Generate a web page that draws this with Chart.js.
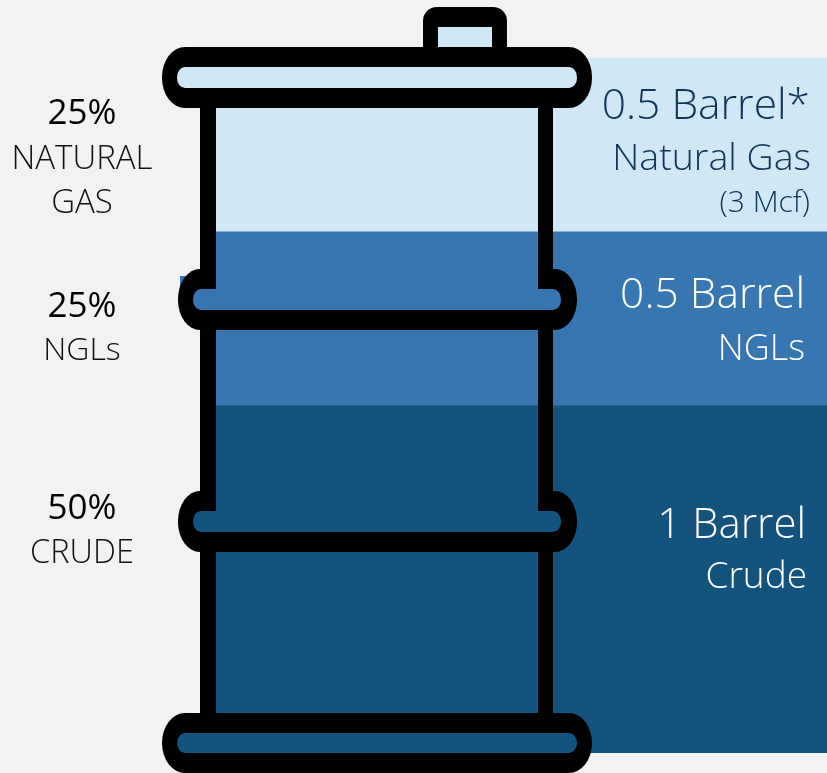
<!DOCTYPE html>
<html><head><meta charset="utf-8">
<script src="https://cdn.jsdelivr.net/npm/chart.js@4"></script>
<style>html,body{margin:0;padding:0;background:#F2F2F2;overflow:hidden}canvas{display:block}</style>
</head><body><canvas id="c" width="827" height="773"></canvas>
<script>
const categories = ["Barrel of oil equivalent"];
const crudeBarrels = [1];
const nglBarrels = [0.5];
const gasBarrels = [0.5];
const seriesNames = ["Crude", "NGLs", "Natural Gas"];
const colors = {crude:"#14537D", ngl:"#3776B1", gas:"#D0E7F6"};
const FONT = '"Open Sans"';

const leftLabels = [
 ["25%", 82, 124, 400, 35, "#000"], ["NATURAL", 82, 169, 300, 33, "#111"], ["GAS", 82, 213, 300, 33, "#111"],
 ["25%", 82, 317, 400, 35, "#000"], ["NGLs", 82, 360, 300, 32, "#111"],
 ["50%", 82, 519, 400, 35, "#000"], ["CRUDE", 82, 563, 300, 32.5, "#111"]
];
const rightLabels = [
 ["0.5 Barrel*", 810, 119, 300, 42.5, "#0F3557"], ["Natural Gas", 811, 170, 300, 37.5, "#0F3557"], ["(3 Mcf)", 810, 212, 300, 30, "#0F3557"],
 ["0.5 Barrel", 805, 308, 300, 42.5, "#fff"], ["NGLs", 805, 360, 300, 36, "#fff"],
 ["1 Barrel", 806, 538, 300, 42, "#fff"], ["Crude", 807, 588, 300, 37, "#fff"]
];

function rr(ctx, x0, y0, x1, y1, rx, ry, color){
  ctx.fillStyle = color;
  ctx.beginPath();
  ctx.roundRect(x0, y0, x1-x0, y1-y0, [{x:rx, y:ry}]);
  ctx.fill();
}
function rect(ctx, x0, y0, x1, y1, color){
  ctx.fillStyle = color;
  ctx.fillRect(x0, y0, x1-x0, y1-y0);
}

const barrelPlugin = {
  id: "barrel",
  afterDatasetsDraw(chart){
    const ctx = chart.ctx;
    ctx.save();
    const K = "#000";
    // stray corner of the NGL band showing behind the upper hoop
    rect(ctx, 180, 276, 200, 296, colors.ngl);
    // walls
    rect(ctx, 200, 100, 216, 720, K);
    rect(ctx, 538, 100, 553, 720, K);
    // neck
    rr(ctx, 423, 7, 507, 60, 14, 14, K);
    rect(ctx, 438, 27, 492, 47, colors.gas);
    // lid
    rr(ctx, 162, 47, 592, 108, 23, 30, K);
    rr(ctx, 177, 67, 577, 88, 8, 10, colors.gas);
    // hoops
    [[269, colors.ngl], [491, colors.crude]].forEach(([y, col]) => {
      rr(ctx, 178, y, 577, y+61, 22, 30, K);
      rr(ctx, 193, y+20, 561, y+41, 8, 10, col);
      rect(ctx, 216, y-1, 538, y+21, col);
    });
    // base
    rr(ctx, 162, 713, 592, 773, 23, 30, K);
    rr(ctx, 177, 733, 577, 753, 8, 10, colors.crude);
    // texts
    ctx.textBaseline = "alphabetic";
    ctx.textAlign = "center";
    leftLabels.forEach(([t,x,y,w,s,c]) => { ctx.font = `${w} ${s}px ${FONT}`; ctx.fillStyle = c; ctx.fillText(t,x,y); });
    ctx.textAlign = "right";
    rightLabels.forEach(([t,x,y,w,s,c]) => { ctx.font = `${w} ${s}px ${FONT}`; ctx.fillStyle = c; ctx.fillText(t,x,y); });
    ctx.restore();
  }
};

const bgPlugin = {
  id: "bg",
  beforeDraw(chart){
    const ctx = chart.ctx;
    ctx.save(); ctx.fillStyle = "#F2F2F2"; ctx.fillRect(0,0,chart.width,chart.height); ctx.restore();
  }
};

new Chart(document.getElementById("c"), {
  type: "bar",
  data: {
    labels: categories,
    datasets: [
      {label: seriesNames[0], data: crudeBarrels, backgroundColor: colors.crude},
      {label: seriesNames[1], data: nglBarrels, backgroundColor: colors.ngl},
      {label: seriesNames[2], data: gasBarrels, backgroundColor: colors.gas}
    ]
  },
  options: {
    responsive: false,
    animation: false,
    layout: {padding: {left: 216, right: 0, top: 0, bottom: 20}},
    plugins: {legend: {display: false}, tooltip: {enabled: false}},
    datasets: {bar: {barPercentage: 1, categoryPercentage: 1, borderWidth: 0}},
    scales: {
      x: {display: false, stacked: true},
      y: {display: false, stacked: true, min: 0, max: 2.167}
    }
  },
  plugins: [bgPlugin, barrelPlugin]
});
</script></body></html>
